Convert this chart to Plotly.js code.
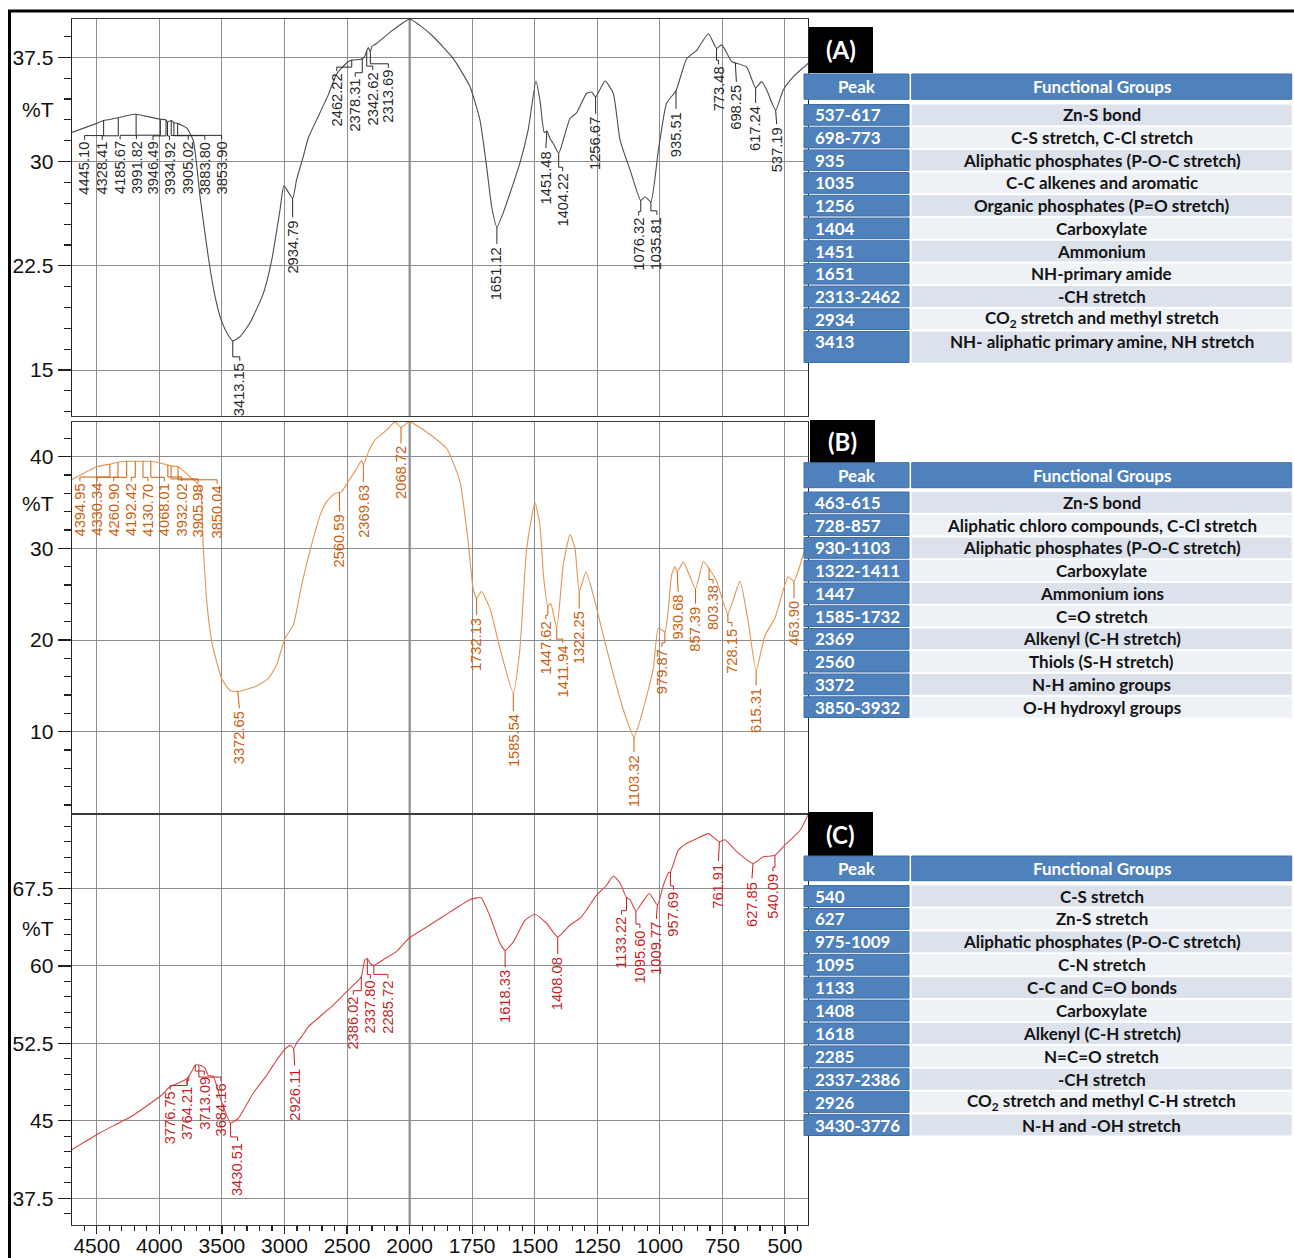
<!DOCTYPE html>
<html>
<head>
<meta charset="utf-8">
<script src="https://cdn.plot.ly/plotly-3.0.1.min.js"></script>
<style>
  html, body { margin: 0; padding: 0; background: #fff; }
  #chart { width: 1294px; height: 1258px; }
</style>
</head>
<body>
<div id="chart"></div>
<script>
// ---- FTIR spectrum (A): wavenumber (cm-1) and transmittance (%T) ----
const waveA = [4700,4500,4445.1,4328.41,4260,4194,4185.67,4100,4074,3991.82,3946.49,3934.92,3905.02,3883.8,3853.9,3780,3728,3675,3609,3555,3502,3449,3413.15,3355,3276,3169,3102,3036,3004,2934.79,2903,2850,2810,2743,2650,2583,2490,2462.22,2397,2378.31,2360,2342.62,2330,2313.69,2300,2264,2157,2000,1959,1906,1826,1759,1719,1692,1672,1651.12,1626,1599,1559,1526,1495,1479,1462,1451.48,1440,1426,1404.22,1386,1359,1333,1293,1273,1256.67,1219,1186,1159,1119,1076.32,1059,1035.81,1006,973,935.51,893,853,806,773.48,753,713,698.25,653,617.24,593,573,537.19,507,467,405];
const transA = [32.1,32.75,32.95,33.15,33.3,33.4,33.4,33.25,33.2,33.05,33.0,32.85,32.95,32.8,32.75,32.4,31.5,27.5,23.15,20.3,18.5,17.5,17.1,17.4,18.4,20.5,22.9,26.5,28.25,27.35,28.7,30.35,31.7,33.0,34.8,36.3,37.2,37.3,37.35,37.4,37.55,37.95,38.2,37.9,38.3,38.5,39.3,40.25,39.8,39.0,37.43,35.4,33.0,29.6,26.75,25.3,26.3,27.7,29.9,32.3,35.8,34.4,32.1,32.2,31.7,31.3,30.6,31.55,33.1,33.5,34.9,35.0,34.66,35.8,34.9,31.55,29.4,27.2,27.47,27.1,30.8,34.2,35.1,37.4,38.0,39.2,38.15,38.4,37.2,37.1,36.8,35.3,35.75,35.15,33.7,35.15,36.1,37.1];
const peaksA = [4445.10,4328.41,4185.67,3991.82,3946.49,3934.92,3905.02,3883.80,3853.90,3413.15,2934.79,2462.22,2378.31,2342.62,2313.69,1651.12,1451.48,1404.22,1256.67,1076.32,1035.81,935.51,773.48,698.25,617.24,537.19];

// ---- FTIR spectrum (B) ----
const waveB = [4700,4500,4394.95,4330.34,4260.9,4192.42,4130.7,4068.01,4021,3932.02,3905.98,3850.04,3755,3675,3649,3621,3581,3502,3435,3372.65,3236,3130,3062,2996,2930,2863,2783,2716,2663,2597,2560.59,2543,2490,2423,2383,2369.63,2330,2277,2184,2117,2068.72,2003,1932,1852,1799,1766,1746,1732.13,1713,1679,1639,1585.54,1559,1532,1499,1479,1465,1447.62,1436,1411.94,1386,1359,1339,1322.25,1295,1266,1213,1146,1103.32,1073,1026,1006,979.87,966,953,940,930.68,906,857.39,826,803.38,773,728.15,680,647,615.31,580,540,487,463.9,427,408];
const transB = [37.5,38.9,39.2,39.4,39.5,39.5,39.5,39.5,39.4,39.1,39.0,38.9,37.8,36.7,30.0,24.2,19.8,15.8,14.5,14.4,14.9,15.8,17.3,20.2,21.6,26.0,30.4,33.6,35.1,36.0,36.1,36.2,37.3,38.7,39.6,39.1,40.5,41.8,42.9,43.8,43.2,43.8,42.7,40.9,37.3,30.7,25.6,24.6,25.3,23.45,19.1,14.2,19.1,30.0,35.0,32.5,27.0,23.7,24.0,21.3,28.2,31.5,30.0,25.3,27.45,24.9,19.1,12.4,9.45,11.8,16.9,21.3,20.9,23.45,27.1,28.0,27.45,28.5,25.6,28.6,27.8,26.4,22.9,26.4,22.0,16.7,20.5,22.4,26.9,26.4,29.3,30.5];
const peaksB = [4394.95,4330.34,4260.90,4192.42,4130.70,4068.01,3932.02,3905.98,3850.04,3372.65,2560.59,2369.63,2068.72,1732.13,1585.54,1447.62,1411.94,1322.25,1103.32,979.87,930.68,857.39,803.38,728.15,615.31,463.90];

// ---- FTIR spectrum (C) ----
const waveC = [4700,4474,4208,3981,3915,3821,3776.75,3764.21,3740,3713.09,3684.16,3660,3635,3609,3569,3515,3430.51,3369,3249,3142,3062,2982,2950,2926.11,2900,2863,2810,2716,2610,2503,2410,2386.02,2357,2337.8,2316,2285.72,2210,2103,2003,1919,1839,1759,1715,1679,1639,1618.33,1586,1539,1499,1452,1408.08,1359,1313,1253,1213,1186,1159,1133.22,1119,1095.6,1073,1042,1009.77,986,966,957.69,926,893,853,806,761.91,740,693,627.85,587,540.09,500,440,408];
const transC = [42.2,43.85,45.55,47.5,48.3,48.8,49.1,49.3,49.8,50.4,50.4,50.3,50.1,49.4,49.3,47.3,44.8,45.25,47.7,49.4,50.9,52.1,52.3,52.0,52.6,53.15,54.1,55.1,56.2,57.5,58.6,58.95,60.6,60.7,60.25,60.05,60.6,61.4,62.7,63.95,65.2,66.4,66.6,64.8,62.2,61.5,62.3,64.4,65.0,64.1,62.8,63.95,64.75,66.85,67.8,68.7,68.0,66.6,66.4,65.3,66.05,67.0,65.9,67.8,69.0,69.1,71.2,71.85,72.3,72.8,72.0,72.2,71.05,69.9,70.55,70.7,71.7,73.1,74.6];
const peaksC = [3776.75,3764.21,3713.09,3684.16,3430.51,2926.11,2386.02,2337.80,2285.72,1618.33,1408.08,1133.22,1095.60,1009.77,957.69,761.91,627.85,540.09];

// ---- Wavenumber tick labels ----
const tickWaves = [4500,4000,3500,3000,2500,2000,1750,1500,1250,1000,750,500];

// ---- Band assignment tables ----
const tableHeader = ['Peak', 'Functional Groups'];
const bandsA = ['537-617','698-773','935','1035','1256','1404','1451','1651','2313-2462','2934','3413'];
const groupsA = ['Zn-S bond','C-S stretch, C-Cl stretch','Aliphatic phosphates (P-O-C stretch)','C-C alkenes and aromatic','Organic phosphates (P=O stretch)','Carboxylate','Ammonium','NH-primary amide','-CH stretch','CO<sub>2</sub> stretch and methyl stretch','NH- aliphatic primary amine, NH stretch'];
const bandsB = ['463-615','728-857','930-1103','1322-1411','1447','1585-1732','2369','2560','3372','3850-3932'];
const groupsB = ['Zn-S bond','Aliphatic chloro compounds, C-Cl stretch','Aliphatic phosphates (P-O-C stretch)','Carboxylate','Ammonium ions','C=O stretch','Alkenyl (C-H stretch)','Thiols (S-H stretch)','N-H amino groups','O-H hydroxyl groups'];
const bandsC = ['540','627','975-1009','1095','1133','1408','1618','2285','2337-2386','2926','3430-3776'];
const groupsC = ['C-S stretch','Zn-S stretch','Aliphatic phosphates (P-O-C stretch)','C-N stretch','C-C and C=O bonds','Carboxylate','Alkenyl (C-H stretch)','N=C=O stretch','-CH stretch','CO<sub>2</sub> stretch and methyl C-H stretch','N-H and -OH stretch'];
const panelTags = ['(A)', '(B)', '(C)'];

// ---- Label placement: [sideways shift, gap below the peak] in px ----
const labelOffsetA = [[-19,21],[-16,24],[-16,27],[-24,22],[-13,22],[2,20],[17,21],[31,19],[44,18],[7,22],[0,22],[-15,13],[-7,20],[6,21],[18,18],[0,20],[-1,20],[4,20],[0,20],[-2,17],[6,15],[0,21],[2,18],[1,22],[0,18],[1,17]];
const labelOffsetB = [[-30,19],[-21,21],[-13,22],[-4,22],[5,22],[13.5,22],[14,18],[27,19],[39,19],[1.5,20],[0,22],[0,20],[0,19],[0,20],[0,21],[-2,15],[6,17],[0,20],[0,18],[-3,17],[1,23],[0,18],[4,17],[4,15],[0,18],[0,20]];
const labelOffsetC = [[-17,13],[-2,10],[9,12],[22,18],[7,20],[1,20],[-8,20],[3,22],[14,15],[0,20],[0,20],[-5,19],[4,19],[-1,17],[3,20],[-1,22],[-1,18],[-2,18]];

// The wavenumber axis is compressed 2:1 above 2000 cm-1, as on the spectrometer output.
function toU(w) { return w > 2000 ? 2000 + (w - 2000) / 2 : w; }

function interpAt(ws, ts, w) {
  for (let i = 0; i < ws.length - 1; i++) {
    if (w <= ws[i] && w >= ws[i + 1]) {
      const f = (ws[i] - w) / (ws[i] - ws[i + 1]);
      return ts[i] + f * (ts[i + 1] - ts[i]);
    }
  }
  return ts[ts.length - 1];
}

const W = 1294, H = 1258;
const px = v => v / W;          // horizontal pixel -> paper
const py = v => 1 - v / H;      // vertical pixel -> paper

const AXIS_FONT = 'Liberation Sans, Arial, sans-serif';
const TABLE_FONT = 'Lato, Carlito, sans-serif';
const LABEL_SIZE = 14.7;
const colA = { line: '#4d4d4d', text: '#2a2a2a' };
const colB = { line: '#e39552', text: '#c9600f' };
const colC = { line: '#d64848', text: '#c41f1f' };

function spectrum(ws, ts, color, xa, ya) {
  return {
    type: 'scatter', mode: 'lines', x: ws.map(toU), y: ts,
    xaxis: xa, yaxis: ya, line: { color: color, width: 1.1, shape: 'spline', smoothing: 0.5 },
    hoverinfo: 'skip'
  };
}

// rotated label length in px (Arial metrics: digits 0.556 em, point 0.278 em)
function labelLength(s) {
  let n = 0;
  for (const ch of s) n += ch === '.' ? 0.278 : 0.556;
  return n * LABEL_SIZE;
}

// peak value labels, written upward below each peak, with a leader line
function peakLabels(peaks, offs, ws, ts, xr, yr, color) {
  const texts = [], leaders = [];
  peaks.forEach((p, i) => {
    const txt = p.toFixed(2);
    const u = toU(p), t = interpAt(ws, ts, p);
    const dx = offs[i][0], gap = offs[i][1];
    texts.push({
      xref: xr, yref: yr, x: u, y: t, text: txt, textangle: -90, showarrow: false,
      xanchor: 'center', yanchor: 'middle', xshift: dx, yshift: -(gap + labelLength(txt) / 2),
      borderpad: 0, font: { family: AXIS_FONT, size: LABEL_SIZE, color: color }
    });
    const path = Math.abs(dx) < 2
      ? `M0,0 L${dx},-${gap - 3}`
      : `M0,0 V-${gap - 6} H${dx} V-${gap - 2}`;
    leaders.push({
      type: 'path', xref: xr, yref: yr, xsizemode: 'pixel', ysizemode: 'pixel',
      xanchor: u, yanchor: t, path: path, line: { color: color, width: 1 }, layer: 'above'
    });
  });
  return { texts, leaders };
}

// ---- Tables drawn as filled cells with text ----
const bold = s => '<b>' + s + '</b>';
const PEAK_BLUE = '#4f81bd', BLUE_EDGE = '#3f6ea6';
const ROW_DARK = '#dce2ec', ROW_LIGHT = '#eef1f6';
const COL_PEAK = [804, 909], COL_GROUP = [911.7, 1291.7];

function cellRect(x0, x1, y0, y1, fill, edge) {
  return { type: 'rect', xref: 'paper', yref: 'paper', layer: 'above',
           x0: px(x0), x1: px(x1), y0: py(y1), y1: py(y0), fillcolor: fill,
           line: edge ? { color: edge, width: 1 } : { width: 0 } };
}
function cellText(x, y, s, color, anchor, size) {
  return { xref: 'paper', yref: 'paper', x: px(x), y: py(y), text: bold(s), showarrow: false,
           xanchor: anchor, yanchor: 'middle', font: { family: TABLE_FONT, size: size || 17, color: color } };
}
function bandTable(bands, groups, headTop, headH, bodyTop, rowH, lastH) {
  const shapes = [], texts = [];
  shapes.push(cellRect(COL_PEAK[0], COL_PEAK[1], headTop, headTop + headH, PEAK_BLUE, BLUE_EDGE));
  shapes.push(cellRect(COL_GROUP[0], COL_GROUP[1], headTop, headTop + headH, PEAK_BLUE, BLUE_EDGE));
  texts.push(cellText((COL_PEAK[0] + COL_PEAK[1]) / 2, headTop + headH / 2, tableHeader[0], '#fff', 'center'));
  texts.push(cellText((COL_GROUP[0] + COL_GROUP[1]) / 2, headTop + headH / 2, tableHeader[1], '#fff', 'center'));
  bands.forEach((b, i) => {
    const top = bodyTop + i * rowH;
    const bottom = (i === bands.length - 1 && lastH) ? top + lastH : top + rowH - 2;
    const cy = top + (rowH - 2) / 2;
    shapes.push(cellRect(COL_PEAK[0], COL_PEAK[1], top, bottom, PEAK_BLUE, BLUE_EDGE));
    shapes.push(cellRect(COL_GROUP[0], COL_GROUP[1], top, bottom, i % 2 ? ROW_LIGHT : ROW_DARK, null));
    texts.push(cellText(813, cy, b, '#fff', 'left'));
    texts.push(cellText((COL_GROUP[0] + COL_GROUP[1]) / 2, cy, groups[i], '#141414', 'center'));
  });
  return { shapes, texts };
}

const tabA = bandTable(bandsA, groupsA, 74, 25.3, 104.5, 22.7, 31);
const tabB = bandTable(bandsB, groupsB, 462.7, 25, 492, 22.75, 0);
const tabC = bandTable(bandsC, groupsC, 856, 24.7, 885.6, 22.9, 0);

const labA = peakLabels(peaksA, labelOffsetA, waveA, transA, 'x', 'y', colA.text);
const labB = peakLabels(peaksB, labelOffsetB, waveB, transB, 'x2', 'y2', colB.text);
const labC = peakLabels(peaksC, labelOffsetC, waveC, transC, 'x3', 'y3', colC.text);

const data = [
  spectrum(waveA, transA, colA.line, 'x', 'y'),
  spectrum(waveB, transB, colB.line, 'x2', 'y2'),
  spectrum(waveC, transC, colC.line, 'x3', 'y3')
];

const xDomain = [px(72), px(808)];
const xBase = {
  range: [3349, 408], domain: xDomain,
  tickmode: 'array', tickvals: tickWaves.map(toU), ticktext: tickWaves.map(String),
  showgrid: true, gridcolor: '#8e8e8e', gridwidth: 1, zeroline: false,
  showline: true, linecolor: '#3a3a3a', linewidth: 1.2, mirror: true,
  tickfont: { family: AXIS_FONT, size: 21, color: '#111' }
};
function yAxis(dom, range, dtick, minor) {
  return {
    domain: dom, range: range, tickmode: 'linear', tick0: 0, dtick: dtick,
    showgrid: true, gridcolor: '#8e8e8e', gridwidth: 1, zeroline: false,
    showline: true, linecolor: '#222', linewidth: 1.4, mirror: true,
    ticks: 'outside', ticklen: 13, tickwidth: 1.3, tickcolor: '#222',
    minor: { tickmode: 'linear', tick0: 0, dtick: minor, ticks: 'outside', ticklen: 7, tickwidth: 1.2, tickcolor: '#222', showgrid: false },
    tickfont: { family: AXIS_FONT, size: 21, color: '#111' }
  };
}

// dark reference line at the 2000 cm-1 scale change
function scaleBreak(xr, yr) {
  return { type: 'line', xref: xr, yref: yr + ' domain', x0: 2000, x1: 2000, y0: 0, y1: 1,
           line: { color: '#1a1a1a', width: 1.6 }, layer: 'below' };
}
function tagBox(x0, x1, y0, y1) {
  return { type: 'rect', xref: 'paper', yref: 'paper', x0: px(x0), x1: px(x1), y0: py(y1), y1: py(y0),
           fillcolor: '#000', line: { width: 0 }, layer: 'above' };
}

const shapes = [
  scaleBreak('x', 'y'), scaleBreak('x2', 'y2'), scaleBreak('x3', 'y3'),
  { type: 'line', xref: 'paper', yref: 'paper', x0: px(8), x1: 1, y0: py(11), y1: py(11), line: { color: '#000', width: 3 } },
  { type: 'line', xref: 'paper', yref: 'paper', x0: px(9.5), x1: px(9.5), y0: 0, y1: py(11), line: { color: '#000', width: 3 } },
  tagBox(809, 873, 27, 73), tagBox(810, 875, 420, 463), tagBox(808, 873, 812, 857)
].concat(labA.leaders, labB.leaders, labC.leaders, tabA.shapes, tabB.shapes, tabC.shapes);

const tagPos = [[841, 50], [842.5, 441.5], [840.5, 834.5]];
const annotations = [].concat(
  labA.texts, labB.texts, labC.texts,
  [110, 503, 928].map(v => ({
    xref: 'paper', yref: 'paper', x: px(38), y: py(v), text: '%T', showarrow: false,
    xanchor: 'center', yanchor: 'middle',
    font: { family: AXIS_FONT, size: 21, color: '#111' }
  })),
  panelTags.map((t, i) => ({
    xref: 'paper', yref: 'paper', x: px(tagPos[i][0]), y: py(tagPos[i][1]), text: bold(t), showarrow: false,
    xanchor: 'center', yanchor: 'middle',
    font: { family: TABLE_FONT, size: 24, color: '#fff' }
  })),
  tabA.texts, tabB.texts, tabC.texts
);

const layout = {
  width: W, height: H, margin: { l: 0, r: 0, t: 0, b: 0 },
  paper_bgcolor: '#fff', plot_bgcolor: '#fff', showlegend: false,
  font: { family: AXIS_FONT },
  xaxis: Object.assign({}, xBase, { anchor: 'y', showticklabels: false, ticks: '' }),
  xaxis2: Object.assign({}, xBase, { anchor: 'y2', matches: 'x', showticklabels: false, ticks: '' }),
  xaxis3: Object.assign({}, xBase, { anchor: 'y3', matches: 'x', ticks: 'outside', ticklen: 8, tickwidth: 1.3, tickcolor: '#222',
    ticklabelstandoff: -6,
    minor: { tickmode: 'linear', tick0: 0, dtick: 50, ticks: 'outside', ticklen: 5, tickwidth: 1.2, tickcolor: '#222', showgrid: false } }),
  yaxis: Object.assign(yAxis([py(416), py(19)], [11.69, 40.26], 7.5, 1.5), { anchor: 'x' }),
  yaxis2: Object.assign(yAxis([py(813.3), py(421.7)], [1.1, 43.82], 10, 2), { anchor: 'x2' }),
  yaxis3: Object.assign(yAxis([py(1225), py(815)], [34.92, 74.6], 7.5, 1.5), { anchor: 'x3' }),
  shapes: shapes,
  annotations: annotations
};

Plotly.newPlot('chart', data, layout, { staticPlot: true, displayModeBar: false });
</script>
</body>
</html>
